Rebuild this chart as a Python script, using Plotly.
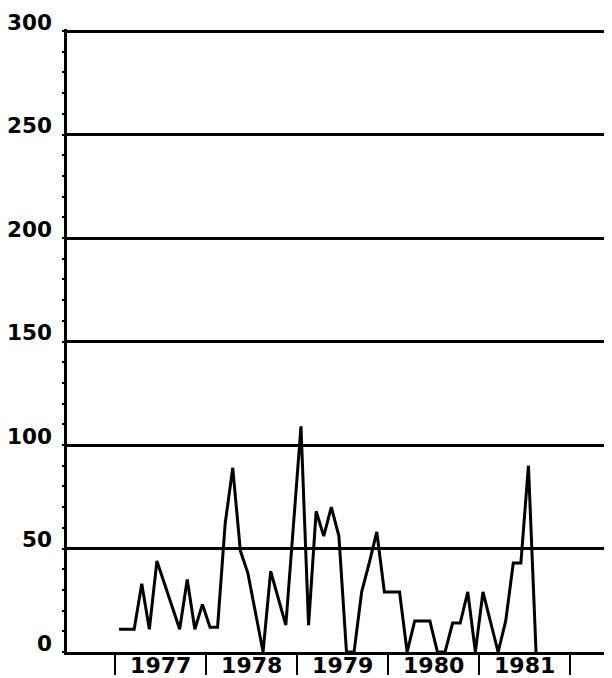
import plotly.graph_objects as go
import pandas as pd

# Monthly values, Jan 1977 .. Aug 1981
months = pd.period_range("1977-01", "1981-08", freq="M")
values = [11, 11, 11, 33, 11, 44, 33, 22, 11, 35, 11, 23,
          12, 12, 62, 89, 49, 38, 19, 0, 39, 26, 13, 61,
          109, 13, 68, 56, 70, 56, 0, 0, 29, 43, 58, 29,
          29, 29, 0, 15, 15, 15, 0, 0, 14, 14, 29, 0,
          29, 15, 0, 15, 43, 43, 90, 0]
years = [1977, 1978, 1979, 1980, 1981]
year_bounds = [1977, 1978, 1979, 1980, 1981, 1982]
y_ticks = [0, 50, 100, 150, 200, 250, 300]

x = [p.year + (p.month - 0.5) / 12 for p in months]

XFONT = dict(family="DejaVu Sans", size=22, color="black", weight="bold")
YFONT = dict(family="DejaVu Sans", size=21.5, color="black", weight="bold")

fig = go.Figure()
fig.add_trace(go.Scatter(x=x, y=values, mode="lines",
                         line=dict(color="black", width=3),
                         showlegend=False, hoverinfo="skip"))

# page body has an 8px default margin, so the figure is 8px smaller
fig.update_layout(
    width=604, height=670,
    margin=dict(l=59, r=0, t=21, b=26),
    paper_bgcolor="white", plot_bgcolor="white",
    font=XFONT,
    xaxis=dict(
        range=[1976.47, 1982.46],
        automargin=False,
        tickmode="array",
        tickvals=[y + 0.5 for y in years],
        ticktext=[str(y) for y in years],
        ticks="",
        showgrid=False, zeroline=False,
        showline=True, linecolor="black", linewidth=3,
        ticklabelstandoff=-8,
        minor=dict(tickmode="array", tickvals=year_bounds, ticks="outside",
                   ticklen=20, tickwidth=2, tickcolor="black", showgrid=False),
        tickfont=XFONT,
    ),
    yaxis=dict(
        range=[0, 301],
        automargin=False,
        tickmode="array",
        tickvals=y_ticks,
        ticktext=[str(v) for v in y_ticks],
        ticks="",
        showgrid=True, gridcolor="black", gridwidth=3,
        zeroline=False,
        showline=True, linecolor="black", linewidth=2.5,
        ticklabelstandoff=8,
        ticklabelshift=-9,
        minor=dict(dtick=10, tick0=0, ticks="outside", ticklen=2,
                   tickwidth=1.5, tickcolor="black", showgrid=False),
        tickfont=YFONT,
    ),
)

fig.write_html("out.html")
